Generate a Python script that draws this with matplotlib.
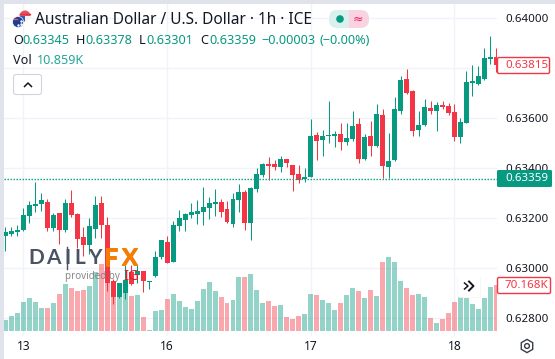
import matplotlib
matplotlib.use('Agg')
import matplotlib.pyplot as plt
import matplotlib.patheffects as pe
from matplotlib.patches import Circle, FancyBboxPatch, Rectangle, RegularPolygon, Wedge

W, H = 555, 359
GREEN = '#089981'
RED = '#f23645'
GRID = '#f0f3fa'
DARK = '#131722'

plt.rcParams['font.family'] = ['Noto Sans', 'DejaVu Sans']

opens = [.63130, .63138, .63145, .63154, .63210, .63250, .63258, .63266, .63162, .63221,
         .63154, .63262, .63218, .63126, .63094, .63158, .63262, .63174, .62950, .62886,
         .62902, .62986, .62974, .62990, .62946, .62970, .63046, .63106, .63026, .63170,
         .63194, .63214, .63218, .63226, .63242, .63258, .63266, .63238, .63178, .63274,
         .63306, .63182, .63318, .63374, .63418, .63418, .63406, .63438, .63414, .63378,
         .63358, .63366, .63534, .63514, .63530, .63530, .63538, .63506, .63518, .63578,
         .63438, .63530, .63490, .63614, .63406, .63434, .63630, .63758, .63710, .63554,
         .63574, .63642, .63630, .63654, .63650, .63626, .63526, .63582, .63742, .63738,
         .63758, .63838, .63846]
highs = [.63165, .63167, .63174, .63242, .63271, .63346, .63303, .63279, .63223, .63223,
         .63278, .63314, .63222, .63166, .63202, .63290, .63290, .63206, .62958, .62942,
         .63014, .63014, .63014, .62990, .62950, .63070, .63114, .63130, .63190, .63234,
         .63222, .63262, .63274, .63326, .63286, .63318, .63278, .63270, .63302, .63338,
         .63314, .63326, .63402, .63422, .63446, .63434, .63450, .63438, .63414, .63414,
         .63402, .63598, .63546, .63554, .63670, .63550, .63582, .63582, .63630, .63602,
         .63538, .63590, .63658, .63638, .63542, .63686, .63770, .63798, .63714, .63630,
         .63678, .63670, .63666, .63670, .63662, .63658, .63602, .63790, .63814, .63810,
         .63882, .63930, .63882]
lows = [.63071, .63130, .63130, .63151, .63181, .63227, .63231, .63151, .63151, .63098,
        .63146, .63205, .63082, .63050, .63058, .63122, .63122, .62910, .62858, .62881,
        .62878, .62934, .62942, .62906, .62918, .62966, .63038, .63022, .63026, .63150,
        .63150, .63202, .63178, .63174, .63198, .63210, .63206, .63182, .63166, .63226,
        .63154, .63114, .63306, .63366, .63354, .63394, .63386, .63406, .63310, .63342,
        .63346, .63366, .63434, .63450, .63502, .63486, .63474, .63494, .63510, .63422,
        .63434, .63450, .63486, .63362, .63362, .63430, .63618, .63698, .63530, .63530,
        .63570, .63618, .63550, .63638, .63614, .63510, .63502, .63582, .63690, .63734,
        .63754, .63818, .63786]
closes = [.63145, .63150, .63154, .63214, .63254, .63258, .63274, .63162, .63214, .63154,
          .63262, .63214, .63118, .63094, .63170, .63254, .63174, .62942, .62886, .62942,
          .62954, .62938, .62990, .62950, .62950, .63046, .63114, .63022, .63174, .63202,
          .63218, .63226, .63230, .63246, .63262, .63266, .63226, .63186, .63278, .63306,
          .63182, .63322, .63378, .63418, .63410, .63406, .63438, .63422, .63374, .63354,
          .63366, .63530, .63510, .63530, .63534, .63538, .63506, .63522, .63570, .63438,
          .63526, .63490, .63618, .63410, .63430, .63638, .63754, .63702, .63550, .63574,
          .63646, .63630, .63654, .63646, .63622, .63526, .63586, .63746, .63750, .63770,
          .63842, .63846, .63815]
volumes = [16.8, 22.9, 27.5, 44.2, 50.3, 44.2, 35.1, 35.1, 42.7, 56.4,
           71.7, 65.6, 61.0, 62.5, 68.6, 90.0, 102.2, 83.9, 76.3, 70.2,
           61.0, 53.4, 54.9, 21.4, 1.5, 30.5, 32.0, 48.8, 56.4, 45.8,
           36.6, 33.6, 45.8, 64.1, 74.7, 61.0, 51.9, 42.7, 47.3, 82.4,
           82.4, 86.9, 62.5, 42.7, 45.8, 38.1, 39.7, 21.4, 18.3, 22.9,
           25.9, 56.4, 54.9, 47.3, 42.7, 32.0, 42.7, 54.9, 65.6, 61.0,
           50.3, 62.5, 53.4, 105.2, 112.9, 105.2, 76.3, 65.6, 54.9, 56.4,
           51.9, 19.8, 12.2, 18.3, 27.5, 44.2, 53.4, 50.3, 41.2, 33.6,
           50.3, 67.1, 70.168]
day_ticks = [3, 27, 51, 75]
day_labels = ['13', '16', '17', '18']
price_ticks = [0.628, 0.630, 0.632, 0.634, 0.636, 0.638, 0.640]
price_labels = ['0.62800', '0.63000', '0.63200', '0.63400', '0.63600', '', '0.64000']
last_price = 0.63359


def px_rect(x0, y0, x1, y1):
    # pixel box, y from the top, to figure fractions
    return [x0 / W, 1 - y1 / H, (x1 - x0) / W, (y1 - y0) / H]


fig = plt.figure(figsize=(W / 100, H / 100), dpi=100, facecolor='white')

# page edge
fig.patches.append(Rectangle((0, 0), 4 / W, 1, transform=fig.transFigure, color='#e0e3eb', lw=0))
fig.patches.append(Rectangle((0, 1 - 4 / H), 1, 4 / H, transform=fig.transFigure, color='#e0e3eb', lw=0))

pos = px_rect(4, 4, 497, 336)
xlim = (-0.25, 82.1)

# price axis with grid and labels
ax = fig.add_axes(pos, zorder=0)
ax.set_xlim(xlim)
ax.set_ylim(0.627296, 0.640576)
ax.set_xticks(day_ticks)
ax.set_xticklabels(day_labels, fontsize=8.6, color=DARK)
ax.set_yticks(price_ticks)
ax.set_yticklabels(price_labels, fontsize=8.3, color=DARK)
ax.yaxis.tick_right()
ax.tick_params(length=0)
ax.tick_params(axis='y', pad=5.8)
ax.tick_params(axis='x', pad=3)
ax.grid(True, color=GRID, lw=1)
ax.set_axisbelow(True)
for s in ax.spines.values():
    s.set_visible(False)

colors = [GREEN if c >= o else RED for o, c in zip(opens, closes)]
xs = list(range(len(opens)))

# volume pane
vol = fig.add_axes(pos, zorder=1)
vol.patch.set_alpha(0)
vol.set_xlim(xlim)
vol.set_ylim(-5 * 1.525, 327 * 1.525)
vol.bar(xs, volumes, width=0.83, color=colors, alpha=0.43, lw=0)
vol.axis('off')

# candles
cd = fig.add_axes(pos, zorder=2)
cd.patch.set_alpha(0)
cd.set_xlim(xlim)
cd.set_ylim(ax.get_ylim())
cd.vlines(xs, lows, highs, colors=colors, lw=0.75)
tops = [max(o, c) for o, c in zip(opens, closes)]
bots = [min(o, c) for o, c in zip(opens, closes)]
cd.bar(xs, [t - b for t, b in zip(tops, bots)], bottom=bots, width=0.83, color=colors, lw=0)
cd.axhline(last_price, color=GREEN, lw=1, ls=(0, (1, 1.16)))
cd.axis('off')

# everything else, in pixels
ov = fig.add_axes([0, 0, 1, 1], zorder=3)
ov.patch.set_alpha(0)
ov.set_xlim(0, W)
ov.set_ylim(H, 0)
ov.axis('off')

# flags
ov.add_patch(Circle((25, 16), 5.5, color='#f4f4f4', lw=0))
ov.add_patch(Wedge((25, 16), 5.5, 180, 360, color='#e8515c', lw=0))
ov.plot([20, 30], [14, 14], color='#d8344a', lw=1)
ov.add_patch(Wedge((25, 16), 5.5, 90, 180, color='#3b5aa8', lw=0))
ov.add_patch(Circle((18, 22), 5.5, color='#1c3f94', ec='white', lw=0.5))
ov.plot([14, 17], [19, 19], color='#e8515c', lw=1)
ov.plot([20.5, 20.5, 18], [21, 24, 25], ls='', marker='.', ms=1.5, color='white')

# header
ov.text(35, 20, 'Australian Dollar / U.S. Dollar · 1h · ICE', fontsize=11.1, color=DARK, va='center')
ov.add_patch(FancyBboxPatch((329, 10), 40, 18, boxstyle='round,pad=0,rounding_size=8', lw=0, color='#d9f0ec'))
ov.add_patch(Rectangle((349, 10), 12, 18, lw=0, color='#fbd3e0'))
ov.add_patch(Wedge((360, 19), 9, -90, 90, lw=0, color='#fbd3e0'))
ov.add_patch(Circle((340, 19), 3.8, lw=0, color=GREEN))
ov.text(358, 19, '≈', fontsize=9, color='#e91e63', ha='center', va='center')

row = [(13, 'O', DARK), (22.5, '0.63345', GREEN), (76, 'H', DARK), (85.5, '0.63378', GREEN),
       (138.5, 'L', DARK), (146.5, '0.63301', GREEN), (200, 'C', DARK), (209, '0.63359', GREEN),
       (261.5, '−0.00003', GREEN), (320, '(−0.00%)', GREEN)]
for x, s, c in row:
    ov.text(x, 40, s, fontsize=9.1, color=c, va='center')
ov.text(13, 61, 'Vol', fontsize=9.1, color=DARK, va='center')
ov.text(37, 61, '10.859K', fontsize=9.1, color='#26a69a', va='center')

ov.add_patch(FancyBboxPatch((13.5, 74.5), 28, 20, boxstyle='round,pad=0,rounding_size=2.5',
                            fc='white', ec='#d1d4dc', lw=0.8))
ov.plot([24.5, 28, 31.5], [86.5, 83, 86.5], color=DARK, lw=1.1)

# watermark
for x, s in [(36.5, 'D'), (53, 'A'), (67, 'I'), (79.5, 'L'), (94.5, 'Y')]:
    ov.text(x, 258, s, fontsize=15, fontweight='bold', color='#4a5363', ha='center', va='center',
            family='Lato')
ov.plot([67, 67], [247, 269], color='#4a5363', lw=1)
heavy = [pe.withStroke(linewidth=0.6, foreground='#f57c00')]
for x, s in [(111, 'F'), (130, 'X')]:
    ov.text(x, 258, s, fontsize=17, fontweight='bold', color='#f57c00', ha='center', va='center',
            family='Lato', path_effects=heavy)
ov.text(65, 277, 'provided by', fontsize=7.1, color='#7c7c7c', va='center', alpha=0.9)
ov.text(123, 277, 'IG', fontsize=11, fontweight='bold', color='#d8212c', va='center')

# price tags
ov.add_patch(FancyBboxPatch((497.5, 57.5), 52, 16, boxstyle='round,pad=0,rounding_size=1.5', fc='white', ec=RED, lw=1))
ov.text(505, 65.5, '0.63815', fontsize=8.3, color=RED, va='center')
ov.add_patch(FancyBboxPatch((497, 170), 55, 17, boxstyle='round,pad=0,rounding_size=1.5', fc=GREEN, lw=0))
ov.text(505, 178.5, '0.63359', fontsize=8.3, color='white', va='center')
ov.add_patch(FancyBboxPatch((497.5, 277.5), 53, 16, boxstyle='round,pad=0,rounding_size=1.5', fc='white', ec=RED, lw=1))
ov.text(505, 285.5, '70.168K', fontsize=8.3, color=RED, va='center')

# scroll button
ov.add_patch(FancyBboxPatch((457, 275), 24, 23, boxstyle='round,pad=0,rounding_size=2.5',
                            fc='#e6e6e6', ec='none', lw=0, alpha=0.6))
ov.add_patch(FancyBboxPatch((457.5, 274.5), 23, 23, boxstyle='round,pad=0,rounding_size=2.5',
                            fc='white', ec='none', lw=0))
ov.plot([464.5, 468, 464.5], [283, 286, 289], color=DARK, lw=1.1)
ov.plot([469, 473.5, 469], [281.5, 286, 290.5], color=DARK, lw=1.4)

# settings icon
ov.add_patch(RegularPolygon((527, 346), 6, radius=6.6, fc='none', ec='#3a3e4a', lw=1))
ov.add_patch(Circle((527, 346), 2.4, fc='none', ec='#3a3e4a', lw=1))

fig.savefig('out.png', dpi=100)
